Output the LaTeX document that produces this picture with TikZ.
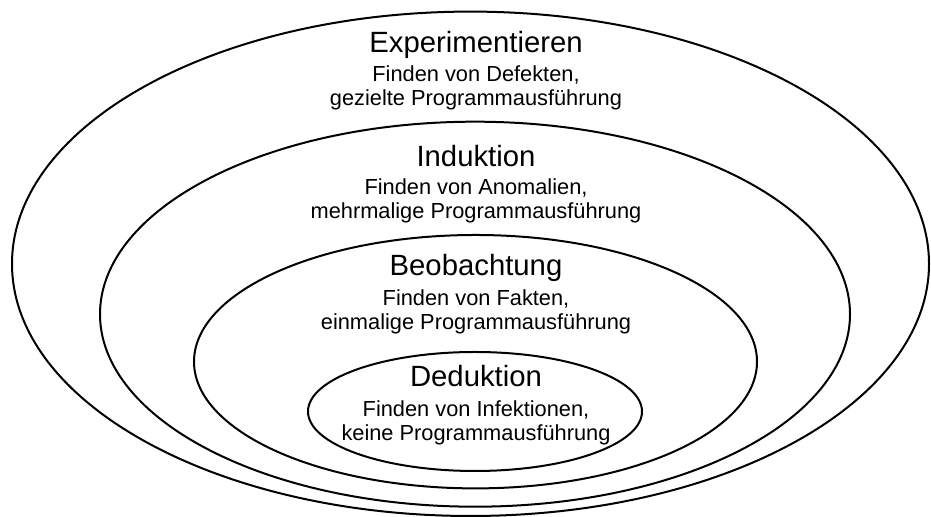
\documentclass[tikz,border=0pt]{standalone}
\usepackage{fontspec}
\setmainfont{Liberation Sans}

\begin{document}
\begin{tikzpicture}[
    x=1pt, y=1pt,
    line width=1pt,
    every node/.style={inner sep=0pt, anchor=base},
    stufe/.style={font=\fontsize{14.65}{17}\selectfont},
    info/.style={font=\fontsize{10.9}{12}\selectfont, align=center}]

\useasboundingbox (0,0) rectangle (465.5,258.5);

% nested ellipses, all sitting near the bottom
\draw (235.25,126.6) ellipse [x radius=229.25pt, y radius=126.1pt];
\draw (237.5,101.4)  ellipse [x radius=187.5pt,  y radius=96.25pt];
\draw (237.75,77.65) ellipse [x radius=140.75pt, y radius=63.35pt];
\draw (237.5,52.75)  ellipse [x radius=83.5pt,   y radius=29.75pt];

% base of an info node is its last line
\node[stufe] (exp) at (238,232) {Experimentieren};
\node[info] (exptext) at (238,205.5) {Finden von Defekten,\\gezielte Programmausführung};

\node[stufe] (ind) at (238,175) {Induktion};
\node[info] (indtext) at (238,149) {Finden von Anomalien,\\mehrmalige Programmausführung};

\node[stufe] (beo) at (238,120.5) {Beobachtung};
\node[info] (beotext) at (238,93.5) {Finden von Fakten,\\einmalige Programmausführung};

\node[stufe] (ded) at (238,65.15) {Deduktion};
\node[info] (dedtext) at (238,38) {Finden von Infektionen,\\keine Programmausführung};

\end{tikzpicture}
\end{document}
